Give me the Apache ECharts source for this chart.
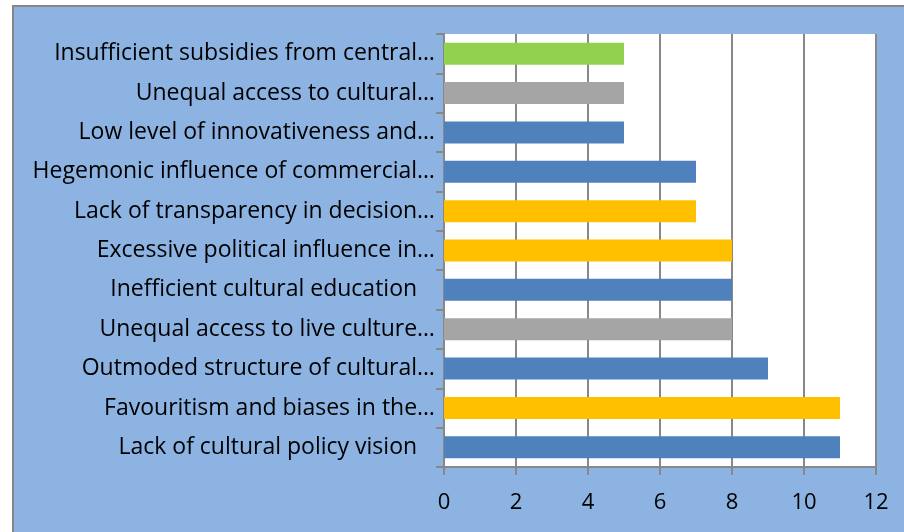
<!DOCTYPE html>
<html>
<head>
<meta charset="utf-8">
<script src="https://cdn.jsdelivr.net/npm/echarts@6/dist/echarts.min.js"></script>
<style>
  html, body { margin: 0; padding: 0; background: #fff; }
  #frame { position: absolute; left: 12px; top: 5px; width: 904px; height: 540px; background: #8DB3E2; border: 2px solid #868686; box-sizing: border-box; }
  #main { position: absolute; left: 0; top: 0; width: 904px; height: 532px; }
</style>
</head>
<body>
<div id="frame"></div>
<div id="main"></div>
<script>
// categories listed bottom to top
var categories = [
  'Lack of cultural policy vision   ',
  'Favouritism and biases in the…',
  'Outmoded structure of cultural…',
  'Unequal access to live culture…',
  'Inefficient cultural education   ',
  'Excessive political influence in…',
  'Lack of transparency in decision…',
  'Hegemonic influence of commercial…',
  'Low level of innovativeness and…',
  'Unequal access to cultural…',
  'Insufficient subsidies from central…'
]
var values = [11, 11, 9, 8, 8, 8, 7, 7, 5, 5, 5]
var barColors = ['#4F81BD', '#FFC000', '#4F81BD', '#A5A5A5', '#4F81BD', '#FFC000', '#FFC000', '#4F81BD', '#4F81BD', '#A5A5A5', '#92D050']
var xTicks = [0, 2, 4, 6, 8, 10, 12]

var myChart = echarts.init(document.getElementById('main'), null, { renderer: 'canvas' })

var fontFam = 'Open Sans, Liberation Sans, sans-serif'

myChart.setOption({
  animation: false,
  backgroundColor: 'transparent',
  grid: { left: 444, right: 28, top: 34, bottom: 65, containLabel: false,
    show: true, backgroundColor: '#fff', borderWidth: 0 },
  xAxis: {
    type: 'value',
    min: xTicks[0],
    max: xTicks[xTicks.length - 1],
    interval: 2,
    axisLine: { show: true, lineStyle: { color: '#888', width: 2 } },
    axisTick: { show: true, length: 8, lineStyle: { color: '#888', width: 2 } },
    splitLine: { show: true, lineStyle: { color: '#888', width: 2 } },
    axisLabel: { color: '#000', fontSize: 22, fontFamily: fontFam, margin: 25 }
  },
  yAxis: {
    type: 'category',
    data: categories,
    axisLine: { show: true, lineStyle: { color: '#888', width: 2 } },
    axisTick: { show: true, length: 8, lineStyle: { color: '#888', width: 2 } },
    axisLabel: { color: '#000', fontSize: 23, fontFamily: fontFam, margin: 9 }
  },
  series: [{
    type: 'bar',
    data: values.map(function (v, i) {
      return { value: v, itemStyle: { color: barColors[i] } }
    }),
    barWidth: 22
  }]
})
</script>
</body>
</html>
